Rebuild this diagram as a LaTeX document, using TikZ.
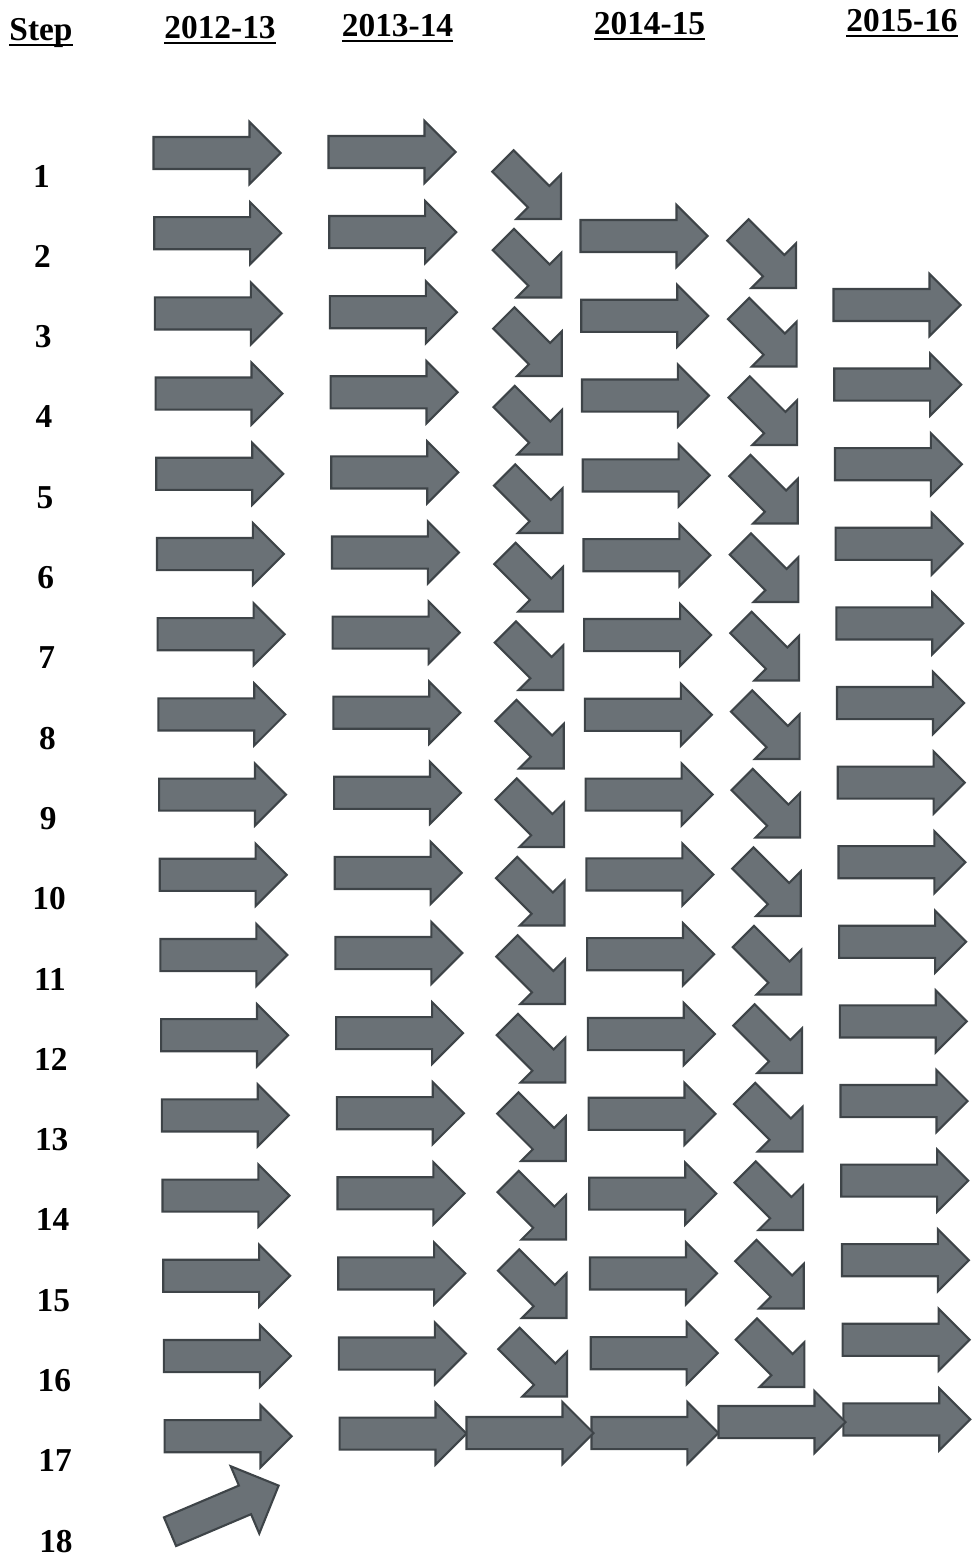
\documentclass[tikz,border=0pt]{standalone}
\usepackage{fontspec}
\setmainfont{Liberation Serif}
\usetikzlibrary{shapes.arrows}
\definecolor{arrowfill}{RGB}{106,113,118}
\definecolor{arrowedge}{RGB}{62,68,72}

\newcommand{\ulhead}[1]{\setbox0=\hbox{#1}\rlap{\rule[-3pt]{\wd0}{1.3pt}}\box0}

\begin{document}
\begin{tikzpicture}[
    x=0.02cm, y=-0.02cm,
    flatarrow/.style={
        single arrow, draw=arrowedge, fill=arrowfill, line width=1.2pt,
        inner xsep=0pt, inner ysep=0.3cm,
        single arrow head extend=0.3cm, single arrow tip angle=90,
        minimum height=2.54cm, anchor=tip
    },
    diagarrow/.style={
        single arrow, draw=arrowedge, fill=arrowfill, line width=1.2pt,
        inner xsep=0pt, inner ysep=0.28cm,
        single arrow head extend=0.33cm, single arrow tip angle=90,
        minimum height=1.64cm, rotate=-45, anchor=tip
    },
    risearrow/.style={
        single arrow, draw=arrowedge, fill=arrowfill, line width=1.2pt,
        inner xsep=0pt, inner ysep=0.29cm,
        single arrow head extend=0.42cm, single arrow tip angle=90,
        minimum height=2.36cm, rotate=23, anchor=tip
    },
    head/.style={font=\fontsize{19}{22}\selectfont\bfseries, anchor=base, inner sep=0pt},
    stepnum/.style={font=\fontsize{19}{22}\selectfont\bfseries, anchor=base, inner sep=0pt}
]
\useasboundingbox (0,0) rectangle (976,1558);

%% ── Column headings ──────────────────────────────────────────────────────────
\node[head] (hstep) at (41,41)    {\ulhead{Step}};
\node[head] (h1213) at (220,39)   {\ulhead{2012-13}};
\node[head] (h1314) at (397.5,37) {\ulhead{2013-14}};
\node[head] (h1415) at (649.5,35) {\ulhead{2014-15}};
\node[head] (h1516) at (902,32)   {\ulhead{2015-16}};

%% ── Step numbers ─────────────────────────────────────────────────────────────
\foreach \r in {1,...,18}
    \node[stepnum] (step\r) at ({41.5+0.85*(\r-1)}, {187+80.3*(\r-1)}) {\r};

%% ── 2012-13 and 2013-14 ──────────────────────────────────────────────────────
\foreach \r in {1,...,17} {
    \node[flatarrow] (yra-\r) at ({282+0.69*(\r-1)}, {153+80.2*(\r-1)}) {};
    \node[flatarrow] (yrb-\r) at ({457+0.69*(\r-1)}, {152+80.1*(\r-1)}) {};
}

%% Turns into 2014-15
\foreach \r in {1,...,16}
    \node[diagarrow] (dga-\r) at ({562+0.4*(\r-1)}, {220+78.5*(\r-1)}) {};

%% ── 2014-15 ──────────────────────────────────────────────────────────────────
\foreach \r in {2,...,17}
    \node[flatarrow] (yrc-\r) at ({709+0.73*(\r-2)}, {236+79.8*(\r-2)}) {};

%% Turns into 2015-16
\foreach \r in {2,...,16}
    \node[diagarrow] (dgb-\r) at ({797+0.6*(\r-2)}, {289+78.5*(\r-2)}) {};

%% ── 2015-16 ──────────────────────────────────────────────────────────────────
\foreach \r in {3,...,17}
    \node[flatarrow] (yrd-\r) at ({962+0.7*(\r-3)}, {305+79.6*(\r-3)}) {};

%% ── Last steps ───────────────────────────────────────────────────────────────
\node[flatarrow] (gapa-17) at (595,1433) {};
\node[flatarrow] (gapb-17) at (847,1422) {};
\node[risearrow] (rise-18) at (280,1485) {};

\end{tikzpicture}
\end{document}
